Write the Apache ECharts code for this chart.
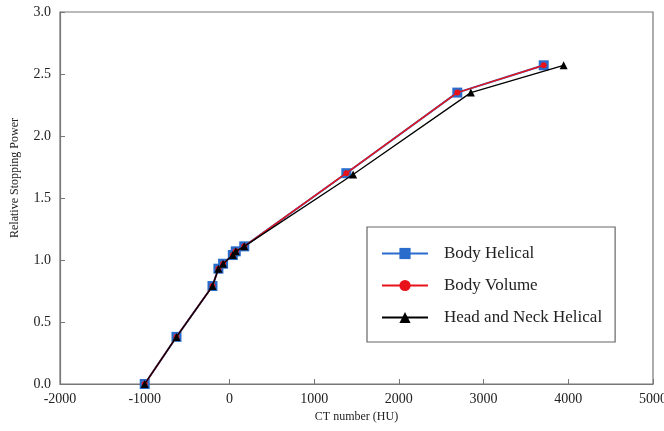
<!DOCTYPE html>
<html>
<head>
<meta charset="utf-8">
<script src="https://cdn.jsdelivr.net/npm/echarts@6/dist/echarts.min.js"></script>
<style>
html,body{margin:0;padding:0;background:#fff;}
#c{width:664px;height:431px;}
</style>
</head>
<body>
<div id="c"></div>
<script>
// Data
const seriesNames = ['Body Helical', 'Body Volume', 'Head and Neck Helical'];
const bodyHelicalHU = [-1000, -625, -200, -130, -75, 40, 75, 175, 1380, 2690, 3710];
const bodyHelicalRSP = [0.00, 0.38, 0.79, 0.93, 0.97, 1.04, 1.07, 1.11, 1.70, 2.35, 2.57];
const bodyVolumeHU = [-1000, -625, -200, -130, -75, 40, 75, 175, 1380, 2690, 3710];
const bodyVolumeRSP = [0.00, 0.38, 0.79, 0.93, 0.97, 1.04, 1.07, 1.11, 1.70, 2.35, 2.57];
const headNeckHU = [-1000, -625, -200, -130, -75, 40, 75, 175, 1460, 2850, 3945];
const headNeckRSP = [0.00, 0.38, 0.79, 0.93, 0.97, 1.04, 1.07, 1.11, 1.69, 2.35, 2.57];
const xTickMin = -2000, xTickMax = 5000, xTickStep = 1000;
const yTickMin = 0, yTickMax = 3, yTickStep = 0.5;

function pairs(xs, ys) { return xs.map((x, i) => [x, ys[i]]); }

const serif = '"Liberation Serif", "Times New Roman", serif';
const chart = echarts.init(document.getElementById('c'), null, {renderer: 'canvas'});
chart.setOption({
  animation: false,
  backgroundColor: '#fff',
  grid: {left: 60, right: 11, top: 12, bottom: 47, show: true, borderColor: '#777', borderWidth: 1.2,
         containLabel: false, outerBoundsMode: 'none'},
  xAxis: {
    type: 'value', min: xTickMin, max: xTickMax, interval: xTickStep,
    name: 'CT number (HU)', nameLocation: 'middle', nameGap: 26,
    nameTextStyle: {fontFamily: serif, fontSize: 12, color: '#222'},
    axisLine: {show: true, onZero: false, lineStyle: {color: '#777', width: 1.2}},
    axisTick: {show: true, inside: true, length: 5, lineStyle: {color: '#777'}},
    axisLabel: {fontFamily: serif, fontSize: 14, color: '#222', margin: 8, formatter: v => String(v)},
    splitLine: {show: false}
  },
  yAxis: {
    type: 'value', min: yTickMin, max: yTickMax, interval: yTickStep,
    name: 'Relative Stopping Power', nameLocation: 'middle', nameGap: 39, nameRotate: 90,
    nameTextStyle: {fontFamily: serif, fontSize: 12, color: '#222', padding: [0, 0, 0, 40]},
    axisLine: {show: true, onZero: false, lineStyle: {color: '#777', width: 1.2}},
    axisTick: {show: true, inside: true, length: 5, lineStyle: {color: '#777'}},
    axisLabel: {fontFamily: serif, fontSize: 14, color: '#222', margin: 9, formatter: v => v.toFixed(1)},
    splitLine: {show: false}
  },
  legend: {
    data: seriesNames,
    orient: 'vertical',
    left: 367, top: 227,
    padding: [18, 13, 16, 14],
    itemWidth: 46, itemHeight: 14, itemGap: 15,
    backgroundColor: '#fff',
    borderColor: '#666', borderWidth: 1.2,
    textStyle: {fontFamily: serif, fontSize: 17, color: '#222', padding: [0, 0, 0, 11]}
  },
  series: [
    {
      name: seriesNames[0], type: 'line', data: pairs(bodyHelicalHU, bodyHelicalRSP),
      symbol: 'rect', symbolSize: 10, color: '#2a6ccc',
      lineStyle: {width: 2, color: '#2a6ccc'}, itemStyle: {color: '#2a6ccc'}, z: 2
    },
    {
      name: seriesNames[1], type: 'line', data: pairs(bodyVolumeHU, bodyVolumeRSP),
      symbol: 'circle', symbolSize: 6, color: '#e8121a',
      lineStyle: {width: 1.5, color: '#e8121a'}, itemStyle: {color: '#e8121a'}, z: 3
    },
    {
      name: seriesNames[2], type: 'line', data: pairs(headNeckHU, headNeckRSP),
      symbol: 'triangle', symbolSize: 8, color: '#000',
      lineStyle: {width: 1.3, color: '#000'}, itemStyle: {color: '#000'}, z: 4
    }
  ]
});
</script>
</body>
</html>
